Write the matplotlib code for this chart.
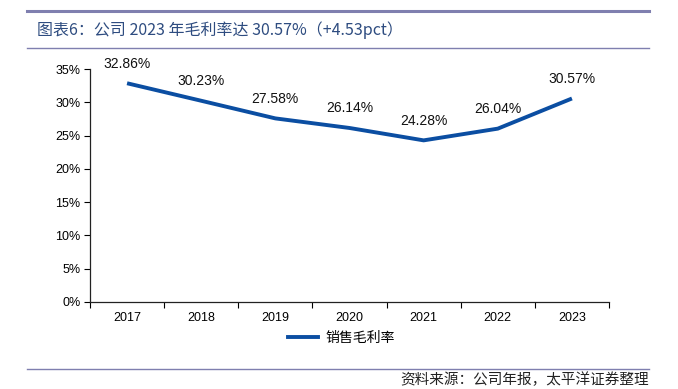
import matplotlib
matplotlib.use("Agg")
import matplotlib.pyplot as plt
from matplotlib.lines import Line2D

plt.rcParams['font.family'] = ['Liberation Sans', 'Noto Sans CJK SC', 'DejaVu Sans']

years = ['2017', '2018', '2019', '2020', '2021', '2022', '2023']
margin = [32.86, 30.23, 27.58, 26.14, 24.28, 26.04, 30.57]
yticks = [0, 5, 10, 15, 20, 25, 30, 35]
series_name = '销售毛利率'
title = '图表6：公司 2023 年毛利率达 30.57%（+4.53pct）'
source = '资料来源：公司年报，太平洋证券整理'

line_color = '#0B4EA2'
title_color = '#2E4C80'
rule_color = '#7F7FAF'

fig = plt.figure(figsize=(6.78, 3.89), dpi=100)
ax = fig.add_axes([90/678, 1-302/389, (609-90)/678, (302-69)/389])

x = list(range(len(years)))
ax.plot(x, margin, color=line_color, lw=2.8, solid_capstyle='butt')
for xi, v in zip(x, margin):
    ax.annotate(f'{v:.2f}%', (xi, v), xytext=(0, 9), textcoords='offset points',
                ha='center', va='bottom', fontsize=10, color='#111111')

ax.set_xlim(-0.5, len(years) - 0.5)
ax.set_ylim(0, 35)
ax.set_yticks(yticks)
ax.set_yticklabels([f'{t}%' for t in yticks], fontsize=9)
ax.set_xticks(x)
ax.set_xticklabels(years, fontsize=9)
ax.set_xticks([i - 0.5 for i in range(len(years) + 1)], minor=True)
ax.tick_params(axis='x', which='major', length=0, pad=7)
ax.tick_params(axis='x', which='minor', length=4, direction='out', width=0.8)
ax.tick_params(axis='y', length=4, direction='out', width=0.8, pad=3)
for s in ['top', 'right']:
    ax.spines[s].set_visible(False)
for s in ['left', 'bottom']:
    ax.spines[s].set_linewidth(0.9)
    ax.spines[s].set_color('#222222')

# legend
handle = Line2D([0], [0], color=line_color, lw=2.8)
fig.legend([handle], [series_name], loc='center', bbox_to_anchor=(341/678, 1-338/389),
           frameon=False, handlelength=2.2, handletextpad=0.5,
           prop={'family': ['Noto Sans CJK SC'], 'size': 10})

# title and rules
fig.add_artist(Line2D([27/678, 649/678], [1-11/389, 1-11/389], color=rule_color, lw=2.2))
fig.add_artist(Line2D([27/678, 649/678], [1-48/389, 1-48/389], color=rule_color, lw=1.0))
fig.text(37/678, 1-30/389, title, fontsize=11.5, color=title_color, va='center', ha='left',
         family=['Noto Sans CJK SC', 'DejaVu Sans'])

fig.add_artist(Line2D([27/678, 649/678], [1-369/389, 1-369/389], color=rule_color, lw=1.0))
fig.text(649/678, 1-380/389, source, fontsize=10.5, color='#222222', va='center', ha='right',
         family=['Noto Sans CJK SC', 'DejaVu Sans'], style='italic')

fig.savefig('out.png', dpi=100)
